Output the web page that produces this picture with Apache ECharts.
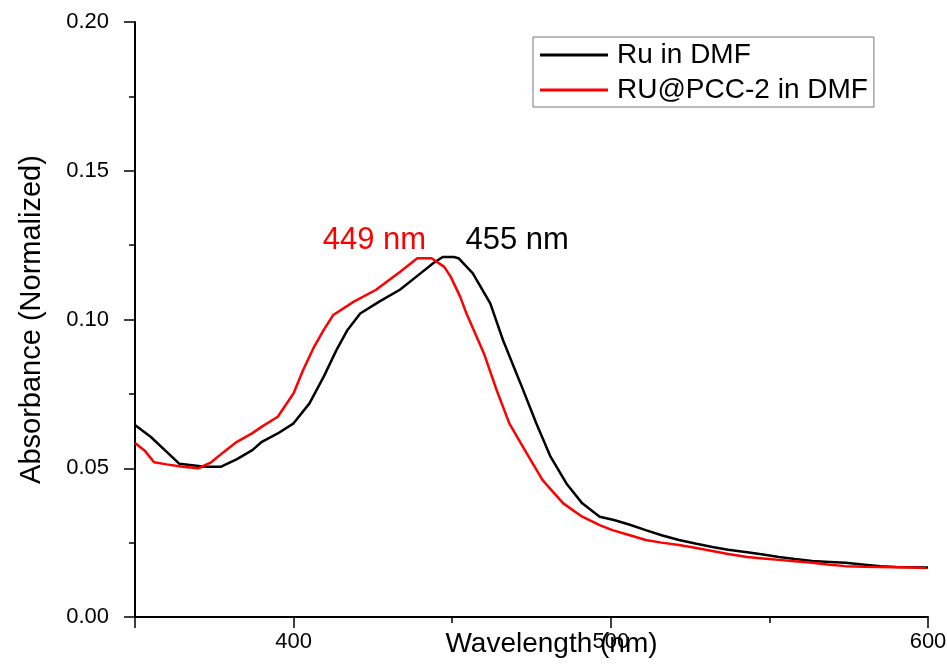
<!DOCTYPE html>
<html>
<head>
<meta charset="utf-8">
<script src="https://cdn.jsdelivr.net/npm/echarts@6/dist/echarts.min.js"></script>
<style>
  html, body { margin: 0; padding: 0; background: #fff; }
  #main { width: 947px; height: 671px; }
</style>
</head>
<body>
<div id="main"></div>
<script>
// Ru in DMF (black)
var wlRu = [350, 355, 360, 364, 368, 372, 377, 382, 387, 390, 395, 400, 405, 409.5, 413.5, 417, 421, 427, 433.5, 440,
  444, 447, 450.5, 452, 456.5, 462, 466, 471.5, 476.5, 481, 486, 491, 496.5, 501, 506, 511, 516, 521.5, 527, 532,
  537, 543, 548, 553, 558, 563.5, 569, 574, 580, 585, 590, 595, 600];
var abRu = [0.0645, 0.0605, 0.0555, 0.0515, 0.051, 0.0505, 0.0505, 0.053, 0.0561, 0.0589, 0.0617, 0.0651, 0.0718, 0.0808, 0.0897, 0.0965, 0.102, 0.106, 0.110, 0.1155,
  0.1189, 0.121, 0.121, 0.1206, 0.1155, 0.1054, 0.0931, 0.0786, 0.0651, 0.0539, 0.0449, 0.0382, 0.0337, 0.0326, 0.031, 0.0292, 0.0275, 0.0259, 0.0246, 0.0235,
  0.0226, 0.0218, 0.021, 0.0202, 0.0195, 0.0188, 0.0185, 0.0182, 0.0176, 0.0171, 0.0168, 0.0167, 0.0166];

// RU@PCC-2 in DMF (red)
var wlPcc = [350, 353, 356, 360, 365, 370, 374, 378, 382, 387, 390, 395, 400, 403, 406.5, 409.5, 412.5, 419, 426, 433.5,
  439, 443.5, 447.5, 449.5, 452.5, 454.5, 460, 464, 468, 473.5, 478.5, 485, 491, 496.5, 500.5, 506, 511, 516, 521.5, 527,
  532, 537, 543, 548, 553, 558, 563.5, 569, 574, 580, 584.5, 590, 595, 599.5];
var abPcc = [0.0585, 0.056, 0.052, 0.0513, 0.0505, 0.050, 0.052, 0.0555, 0.0588, 0.0618, 0.064, 0.0673, 0.0752, 0.083, 0.0909, 0.0965, 0.1015, 0.106, 0.110, 0.116,
  0.1206, 0.1206, 0.1177, 0.1144, 0.1077, 0.102, 0.0886, 0.0763, 0.0651, 0.055, 0.046, 0.0382, 0.0337, 0.0309, 0.0292, 0.0275, 0.0259, 0.025, 0.0242, 0.0232,
  0.0222, 0.0212, 0.0202, 0.0197, 0.0192, 0.0187, 0.0182, 0.0176, 0.0171, 0.0169, 0.0168, 0.0167, 0.0166, 0.0165];

var seriesNames = ['Ru in DMF', 'RU@PCC-2 in DMF'];
var xMajorTicks = [350, 400, 500, 600];
var xTickLabels = [400, 500, 600];
var xMinorTicks = [450, 550];
// peak labels (text, position in data units)
var peakRu = ['455 nm', 470.5, 0.1267];
var peakPcc = ['449 nm', 425.5, 0.1267];

var font = 'Liberation Sans, Arial, sans-serif';

function pairs(xs, ys) {
  var out = [];
  for (var i = 0; i < xs.length; i++) {
    out.push([xs[i], ys[i]]);
  }
  return out;
}

function peakMark(p, color) {
  return {
    symbol: 'circle',
    symbolSize: 1,
    itemStyle: { color: 'rgba(0,0,0,0)' },
    label: { show: true, position: 'inside', formatter: p[0], color: color, fontSize: 31, fontFamily: font },
    data: [{ coord: [p[1], p[2]] }]
  };
}

var myChart = echarts.init(document.getElementById('main'));

var option = {
  animation: false,
  grid: { left: 135, right: 19, top: 22, bottom: 54, outerBoundsMode: 'none' },
  legend: {
    orient: 'vertical',
    left: 533,
    top: 37,
    padding: [3, 6, 2, 7],
    itemGap: 5,
    itemWidth: 68,
    itemHeight: 3,
    icon: 'rect',
    borderColor: '#777',
    borderWidth: 1,
    textStyle: { fontSize: 28, fontFamily: font, color: '#000', lineHeight: 30, padding: [0, 0, 0, 4] },
    data: seriesNames
  },
  xAxis: [{
    type: 'value',
    min: 350,
    max: 600,
    interval: 50,
    name: 'Wavelength (nm)',
    nameLocation: 'middle',
    nameGap: 13,
    nameMoveOverlap: false,
    nameTextStyle: { fontSize: 28, fontFamily: font, color: '#000', padding: [0, 0, 0, 40] },
    axisLine: { lineStyle: { color: '#000', width: 2 } },
    axisTick: { customValues: xMajorTicks, length: 11, lineStyle: { color: '#000', width: 1.5 } },
    axisLabel: { customValues: xTickLabels, margin: 14, fontSize: 22, fontFamily: font, color: '#000' },
    splitLine: { show: false }
  }, {
    type: 'value',
    min: 350,
    max: 600,
    position: 'bottom',
    axisLine: { show: false },
    axisTick: { customValues: xMinorTicks, length: 6, lineStyle: { color: '#000', width: 1.5 } },
    axisLabel: { show: false },
    splitLine: { show: false }
  }],
  yAxis: {
    type: 'value',
    min: 0,
    max: 0.2,
    interval: 0.05,
    name: 'Absorbance (Normalized)',
    nameLocation: 'middle',
    nameGap: 89,
    nameMoveOverlap: false,
    nameTextStyle: { fontSize: 29, fontFamily: font, color: '#000' },
    axisLine: { show: true, lineStyle: { color: '#000', width: 2 } },
    axisTick: { show: true, length: 11, lineStyle: { color: '#000', width: 1.5 } },
    minorTick: { show: true, splitNumber: 2, length: 6, lineStyle: { color: '#000', width: 1.5 } },
    axisLabel: {
      margin: 26, fontSize: 22, fontFamily: font, color: '#000',
      formatter: function (v) { return v.toFixed(2); }
    },
    splitLine: { show: false }
  },
  series: [
    {
      name: seriesNames[0],
      type: 'line',
      data: pairs(wlRu, abRu),
      showSymbol: false,
      color: '#000000',
      lineStyle: { width: 2.5 },
      markPoint: peakMark(peakRu, '#000000')
    },
    {
      name: seriesNames[1],
      type: 'line',
      data: pairs(wlPcc, abPcc),
      showSymbol: false,
      color: '#ff0000',
      lineStyle: { width: 2.5 },
      markPoint: peakMark(peakPcc, '#ff0000')
    }
  ]
};

myChart.setOption(option);
</script>
</body>
</html>
